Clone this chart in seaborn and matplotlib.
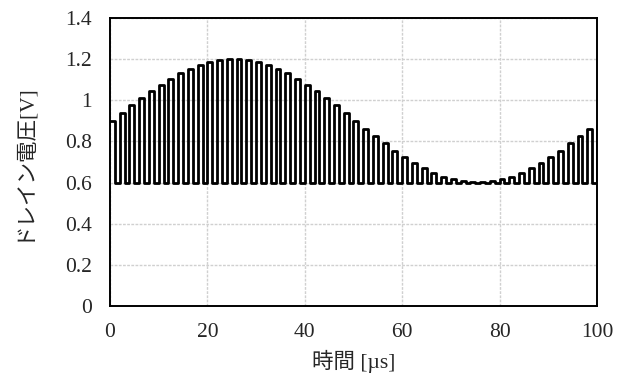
import numpy as np
import pandas as pd
import matplotlib
matplotlib.use("Agg")
import matplotlib.pyplot as plt
import seaborn as sns

# Pulse peak voltages (one pulse every 2 µs, 0..100 µs)
pulse_peaks = [0.90, 0.94, 0.975, 1.01, 1.045, 1.076, 1.105, 1.131, 1.153, 1.171,
               1.185, 1.195, 1.199, 1.199, 1.195, 1.185, 1.171, 1.153, 1.131, 1.105,
               1.076, 1.045, 1.01, 0.975, 0.94, 0.90, 0.862, 0.825, 0.79, 0.755,
               0.724, 0.695, 0.669, 0.647, 0.629, 0.615, 0.605, 0.601, 0.601, 0.605,
               0.615, 0.629, 0.647, 0.669, 0.695, 0.724, 0.755, 0.79, 0.825, 0.862,
               0.88]
pulse_low = 0.6
pulse_period = 2.0  # µs

x_ticks = [0, 20, 40, 60, 80, 100]
y_ticks = [0, 0.2, 0.4, 0.6, 0.8, 1.0, 1.2, 1.4]
y_tick_labels = ["0", "0.2", "0.4", "0.6", "0.8", "1", "1.2", "1.4"]
x_label = "時間 [µs]"
y_label = "ドレイン電圧[V]"

# Build step waveform: high at pulse start, low at half period
times, volts = [], []
for k, peak in enumerate(pulse_peaks):
    t0 = k * pulse_period
    times.append(t0)
    volts.append(peak)
    if t0 + pulse_period / 2 <= 100:
        times.append(t0 + pulse_period / 2)
        volts.append(pulse_low)
df = pd.DataFrame({"t": times, "v": volts})

sns.set_theme(style="white")
fonts = ["Liberation Serif", "Noto Sans CJK JP", "DejaVu Sans"]
plt.rcParams["font.family"] = fonts

fig = plt.figure(figsize=(6.18, 3.74), dpi=100)
ax = fig.add_axes([0.178, 0.182, 0.788, 0.770])

sns.lineplot(data=df, x="t", y="v", ax=ax, estimator=None, sort=False,
             drawstyle="steps-post", color="black", linewidth=2.0)

ax.set_xlim(0, 100)
ax.set_ylim(0, 1.4)
ax.set_xticks(x_ticks)
ax.set_xticklabels([str(v) for v in x_ticks])
ax.set_yticks(y_ticks)
ax.set_yticklabels(y_tick_labels)
ax.tick_params(axis="both", length=0, labelsize=15.5, colors="#262626")
ax.tick_params(axis="x", pad=12.5)
ax.tick_params(axis="y", pad=13)
ax.grid(True, color="#d0d0d0", linestyle=(0, (2, 1)), linewidth=1.0)
ax.set_axisbelow(True)
for s in ax.spines.values():
    s.set_visible(True)
    s.set_color("black")
    s.set_linewidth(1.4)

ax.set_xlabel(x_label, fontsize=15.5, family=fonts, color="#262626")
ax.set_ylabel(y_label, fontsize=15.5, family=fonts, color="#262626")
ax.xaxis.set_label_coords(0.5, -0.153)
ax.yaxis.set_label_coords(-0.158, 0.5)

fig.savefig("out.png", dpi=100, facecolor="white")
